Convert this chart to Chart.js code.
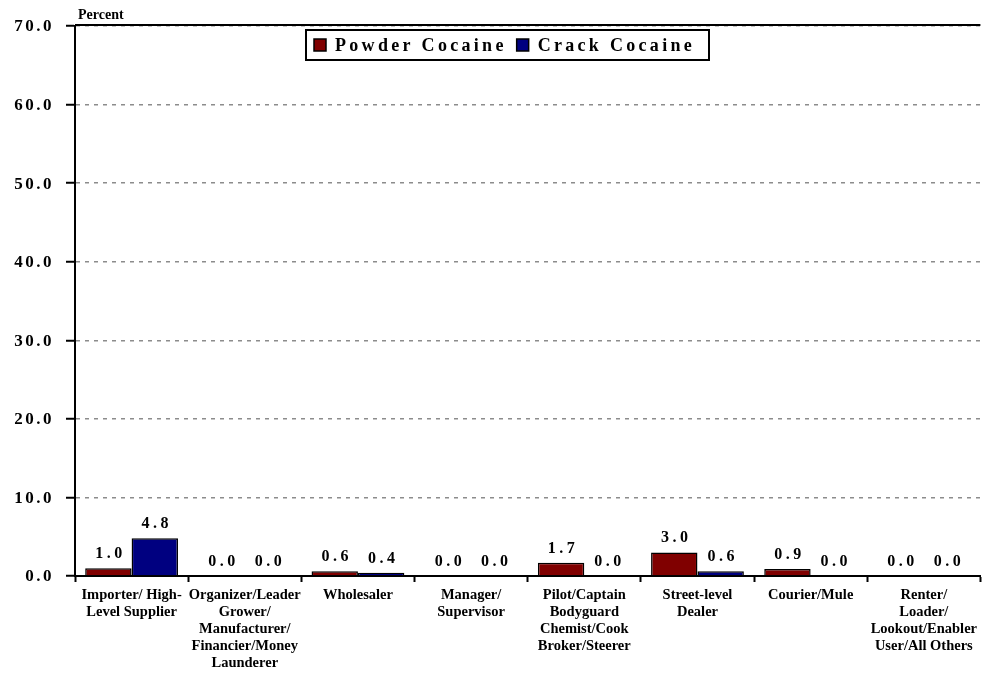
<!DOCTYPE html>
<html><head><meta charset="utf-8">
<title>Function by drug type</title>
<script src="https://cdn.jsdelivr.net/npm/chart.js@4"></script>
<style>
  html, body { margin: 0; padding: 0; background: #fff; overflow: hidden; }
  #chart { display: block; }
</style>
</head>
<body>
<canvas id="chart" width="982" height="673"></canvas>
<script>
  // data
  const categories = [
    ['Importer/ High-', 'Level Supplier'],
    ['Organizer/Leader', 'Grower/', 'Manufacturer/', 'Financier/Money', 'Launderer'],
    ['Wholesaler'],
    ['Manager/', 'Supervisor'],
    ['Pilot/Captain', 'Bodyguard', 'Chemist/Cook', 'Broker/Steerer'],
    ['Street-level', 'Dealer'],
    ['Courier/Mule'],
    ['Renter/', 'Loader/', 'Lookout/Enabler', 'User/All Others']
  ];
  const powderCocaine = [1.0, 0.0, 0.6, 0.0, 1.7, 3.0, 0.9, 0.0];
  const crackCocaine  = [4.8, 0.0, 0.4, 0.0, 0.0, 0.6, 0.0, 0.0];
  const yTicks = [0, 10, 20, 30, 40, 50, 60, 70];

  const serif = '"Liberation Serif", "Times New Roman", serif';

  // y tick labels, "Percent", top border, value labels and the legend box
  const extras = {
    id: 'extras',
    afterDraw(chart) {
      const c = chart.ctx;
      const area = chart.chartArea;
      const y = chart.scales.y;
      c.save();
      c.fillStyle = '#000';

      // top border of the plot
      c.strokeStyle = '#000';
      c.lineWidth = 2;
      c.beginPath();
      c.moveTo(area.left, area.top - 1);
      c.lineTo(area.right, area.top - 1);
      c.stroke();

      // y tick labels (spaced out like the original)
      c.font = 'bold 17px ' + serif;
      c.letterSpacing = '2.5px';
      c.textAlign = 'right';
      c.textBaseline = 'middle';
      y.ticks.forEach(t => {
        c.fillText(t.value.toFixed(1), area.left - 21, y.getPixelForValue(t.value) + 1);
      });

      // axis title
      c.letterSpacing = '0px';
      c.font = 'bold 14px ' + serif;
      c.textAlign = 'left';
      c.textBaseline = 'alphabetic';
      c.fillText('Percent', area.left + 3, area.top - 7);

      // values above the bars
      c.font = 'bold 16px ' + serif;
      c.letterSpacing = '3.5px';
      c.textAlign = 'center';
      chart.data.datasets.forEach((ds, i) => {
        chart.getDatasetMeta(i).data.forEach((bar, j) => {
          c.fillText(ds.data[j].toFixed(1), bar.x + 2, bar.y - 10);
        });
      });

      // legend
      const bx = 306, by = 30, bw = 403, bh = 30;
      c.fillStyle = '#fff';
      c.fillRect(bx, by, bw, bh);
      c.lineWidth = 2;
      c.strokeRect(bx, by, bw, bh);
      c.font = 'bold 18px ' + serif;
      c.letterSpacing = '3.3px';
      c.textAlign = 'left';
      c.textBaseline = 'middle';
      let x = bx + 8;
      chart.data.datasets.forEach(ds => {
        c.fillStyle = ds.backgroundColor;
        c.fillRect(x, by + 9, 12, 12);
        c.lineWidth = 1.5;
        c.strokeRect(x, by + 9, 12, 12);
        c.fillStyle = '#000';
        c.fillText(ds.label, x + 21, by + bh / 2 + 1);
        x += 21 + c.measureText(ds.label).width + 10;
      });
      c.restore();
    }
  };

  new Chart(document.getElementById('chart'), {
    type: 'bar',
    data: {
      labels: categories,
      datasets: [
        { label: 'Powder Cocaine', data: powderCocaine, backgroundColor: '#800000',
          borderColor: '#000', borderWidth: 1.5 },
        { label: 'Crack Cocaine', data: crackCocaine, backgroundColor: '#000080',
          borderColor: '#000', borderWidth: 1.5 }
      ]
    },
    options: {
      responsive: false,
      animation: false,
      devicePixelRatio: 1,
      layout: { padding: { top: 26, left: 0, right: 0, bottom: 0 } },
      categoryPercentage: 0.82,
      barPercentage: 1.0,
      plugins: { legend: { display: false }, tooltip: { enabled: false } },
      scales: {
        x: {
          afterFit: s => { s.height = 97; },
          grid: { drawOnChartArea: false, drawTicks: true, tickLength: 6,
                  tickColor: '#000', tickWidth: 2, offset: true },
          border: { color: '#000', width: 2 },
          ticks: { color: '#000', maxRotation: 0, autoSkip: false, padding: 5,
                   font: { family: serif, size: 14.5, weight: 'bold', lineHeight: 1.17 } }
        },
        y: {
          min: 0, max: 70,
          afterFit: s => { s.width = 75; },
          afterBuildTicks: s => { s.ticks = yTicks.map(v => ({ value: v })); },
          grid: { color: '#8c8c8c', lineWidth: 1.5,
                  drawTicks: true, tickLength: 9, tickColor: '#000', tickWidth: 2,
                  tickBorderDash: [] },
          border: { color: '#000', width: 2, dash: [4, 5] },
          ticks: { display: false }
        }
      }
    },
    plugins: [extras]
  });
</script>
</body></html>
